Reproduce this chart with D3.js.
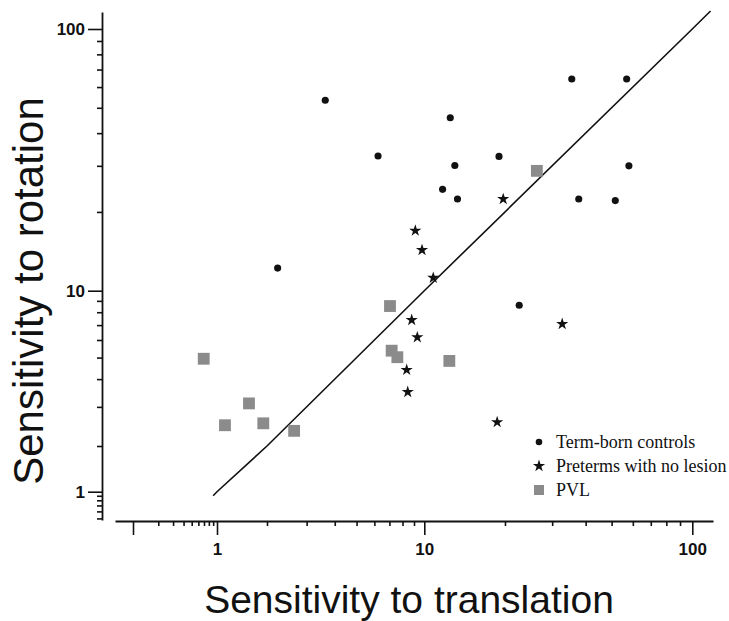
<!DOCTYPE html>
<html>
<head>
<meta charset="utf-8">
<script src="https://cdn.jsdelivr.net/npm/d3@7"></script>
<style>
  html, body { margin: 0; padding: 0; background: #fff; }
  svg { display: block; }
</style>
</head>
<body>
<svg id="chart" width="729" height="621"></svg>
<script>
// Sensitivity to translation (x) vs sensitivity to rotation (y), per group
const termX = [3.63, 12.5, 6.23, 13.0, 11.7, 13.3, 2.23, 35.5, 56.9, 19.0, 58.0, 37.7, 51.6, 22.6];
const termY = [53.4, 45.8, 32.7, 30.1, 24.4, 22.4, 12.2, 64.4, 64.4, 32.6, 30.0, 22.4, 22.1, 8.6];

const pretermX = [9.12, 9.77, 10.8, 8.79, 9.31, 8.35, 8.44, 19.7, 18.7, 32.7];
const pretermY = [16.96, 14.3, 11.2, 7.38, 6.17, 4.40, 3.50, 22.4, 2.56, 7.08];

const pvlX = [7.04, 0.695, 7.16, 7.59, 12.4, 1.558, 1.117, 1.90, 2.64, 26.3];
const pvlY = [8.53, 4.94, 5.37, 5.02, 4.83, 3.11, 2.48, 2.53, 2.34, 28.7];

// Line of equal sensitivity (y = x), listed at the axis break points
const identityLine = [0.9, 1, 2, 10, 100, 117];

const majorTicks = [0.1, 1, 10, 100];
const tickLabels = { 1: "1", 10: "10", 100: "100" };

const legendLabels = ["Term-born controls", "Preterms with no lesion", "PVL"];
const xTitle = "Sensitivity to translation";
const yTitle = "Sensitivity to rotation";

const svg = d3.select("#chart");

// Piecewise log scales: the lower decades of both axes are drawn compressed
const x = d3.scaleLog()
  .domain([0.092, 0.1, 1, 2, 10, 100, 119.5])
  .range([115, 133, 217, 267, 424.3, 692.3, 713]);

const y = d3.scaleLog()
  .domain([0.48, 1, 2, 10, 100, 116])
  .range([520, 491.7, 446, 290.7, 29, 12]);

const isMajor = v => majorTicks.some(m => Math.abs(v - m) / m < 1e-6);
const fmt = v => {
  for (const k in tickLabels) if (Math.abs(v - +k) < 1e-6) return tickLabels[k];
  return "";
};

// X axis
const xAxisG = svg.append("g")
  .attr("transform", "translate(0,521)")
  .call(d3.axisBottom(x).tickValues(x.ticks()).tickFormat(fmt).tickSizeInner(5).tickSizeOuter(0).tickPadding(8));
xAxisG.select(".domain").attr("stroke", "#111").attr("stroke-width", 1.8);
xAxisG.selectAll(".tick line")
  .attr("stroke", "#111").attr("stroke-width", 1.6)
  .attr("y2", d => isMajor(d) ? 14 : 5);
xAxisG.selectAll(".tick text")
  .attr("y", 22)
  .attr("font-family", "Liberation Sans, Arial, sans-serif")
  .attr("font-weight", "bold")
  .attr("font-size", 17)
  .attr("fill", "#111");

// Y axis
const yAxisG = svg.append("g")
  .attr("transform", "translate(102,0)")
  .call(d3.axisLeft(y).tickValues(y.ticks()).tickFormat(fmt).tickSizeInner(5).tickSizeOuter(0).tickPadding(4));
yAxisG.select(".domain").attr("stroke", "#111").attr("stroke-width", 1.8);
yAxisG.selectAll(".tick line")
  .attr("stroke", "#111").attr("stroke-width", 1.6)
  .attr("x2", d => isMajor(d) ? -14 : -5);
yAxisG.selectAll(".tick text")
  .attr("x", -17)
  .attr("font-family", "Liberation Sans, Arial, sans-serif")
  .attr("font-weight", "bold")
  .attr("font-size", 17)
  .attr("fill", "#111");

// Equal-sensitivity line
svg.append("path")
  .datum(identityLine)
  .attr("d", d3.line().x(d => x(d)).y(d => y(d)))
  .attr("fill", "none")
  .attr("stroke", "#111")
  .attr("stroke-width", 1.6);

const dotSym = d3.symbol().type(d3.symbolCircle).size(40);
const starSym = d3.symbol().type(d3.symbolStar).size(46);
const squareSym = d3.symbol().type(d3.symbolSquare).size(140);

const pvlColor = "#8b8b8b";

// PVL
svg.append("g").selectAll("path")
  .data(d3.zip(pvlX, pvlY))
  .join("path")
  .attr("transform", d => `translate(${x(d[0])},${y(d[1])})`)
  .attr("d", squareSym())
  .attr("fill", pvlColor);

// Term-born controls
svg.append("g").selectAll("path")
  .data(d3.zip(termX, termY))
  .join("path")
  .attr("transform", d => `translate(${x(d[0])},${y(d[1])})`)
  .attr("d", dotSym())
  .attr("fill", "#111");

// Preterms with no lesion
svg.append("g").selectAll("path")
  .data(d3.zip(pretermX, pretermY))
  .join("path")
  .attr("transform", d => `translate(${x(d[0])},${y(d[1])})`)
  .attr("d", starSym())
  .attr("fill", "#111");

// Legend
const legend = svg.append("g").attr("transform", "translate(539,442)");
const legendSyms = [
  { sym: d3.symbol().type(d3.symbolCircle).size(34), fill: "#111" },
  { sym: d3.symbol().type(d3.symbolStar).size(46), fill: "#111" },
  { sym: d3.symbol().type(d3.symbolSquare).size(100), fill: pvlColor }
];
legendLabels.forEach((label, i) => {
  const row = legend.append("g").attr("transform", `translate(0,${i * 24})`);
  row.append("path").attr("d", legendSyms[i].sym()).attr("fill", legendSyms[i].fill);
  row.append("text")
    .attr("x", 17)
    .attr("y", 5.5)
    .attr("font-family", "Liberation Serif, Times New Roman, serif")
    .attr("font-size", 18)
    .attr("fill", "#111")
    .text(label);
});

// Axis titles
svg.append("text")
  .attr("x", 409)
  .attr("y", 613)
  .attr("text-anchor", "middle")
  .attr("font-family", "Liberation Sans, Arial, sans-serif")
  .attr("font-size", 39)
  .attr("fill", "#111")
  .text(xTitle);

svg.append("text")
  .attr("transform", "translate(43,291) rotate(-90)")
  .attr("text-anchor", "middle")
  .attr("font-family", "Liberation Sans, Arial, sans-serif")
  .attr("font-size", 42)
  .attr("fill", "#111")
  .text(yTitle);
</script>
</body>
</html>
